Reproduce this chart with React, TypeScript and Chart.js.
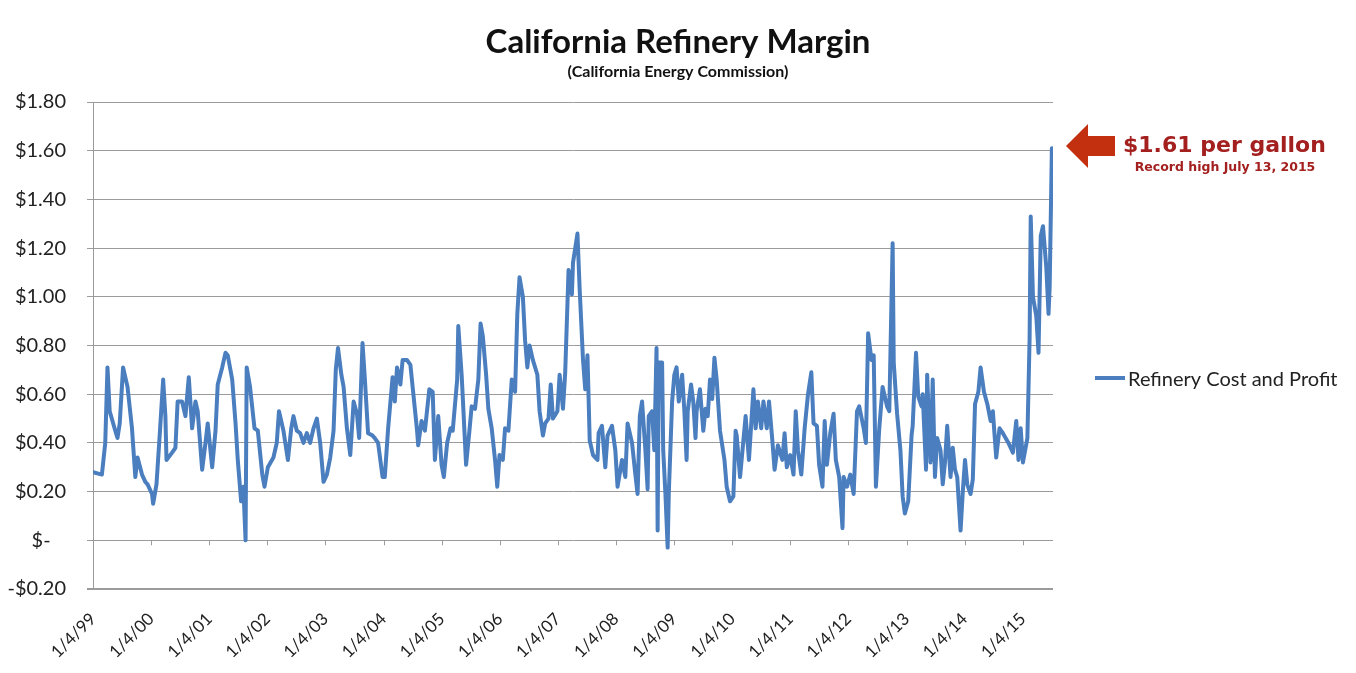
import React, { useEffect, useRef } from "react";
import { Chart, registerables } from "chart.js";

Chart.register(...registerables);

// Week index since 1/4/99 (weekly observations)
const weeks = [
  0, 8, 11, 13, 15, 20, 22, 24, 27, 31, 35, 38, 40, 44, 47, 49, 53, 54, 57, 60,
  63, 65, 66, 71, 74, 76, 80, 83, 86, 89, 92, 94, 98, 101, 103, 107, 110, 112, 116, 119,
  121, 125, 128, 130, 133, 135, 137, 138, 141, 145, 148, 152, 154, 157, 162, 165, 167, 171, 175, 178,
  180, 183, 186, 189, 192, 195, 198, 201, 204, 207, 210, 213, 216, 218, 220, 223, 225, 228, 231, 234,
  237, 239, 242, 244, 247, 251, 253, 256, 260, 262, 265, 269, 271, 273, 276, 278, 282, 285, 287, 291,
  292, 295, 298, 302, 305, 307, 310, 313, 315, 318, 321, 323, 327, 328, 331, 332, 335, 338, 340, 343,
  346, 348, 350, 353, 355, 358, 361, 363, 365, 368, 370, 373, 376, 379, 381, 383, 386, 388, 390, 392,
  395, 399, 401, 404, 406, 409, 411, 413, 417, 419, 422, 424, 427, 430, 431, 435, 437, 440, 442, 444,
  446, 449, 453, 454, 457, 460, 462, 466, 469, 471, 475, 478, 480, 484, 487, 489, 491, 493, 496, 498,
  499, 502, 504, 506, 507, 508, 511, 512, 514, 516, 517, 520, 522, 524, 526, 529, 531, 533, 534, 537,
  539, 541, 542, 545, 548, 550, 552, 554, 556, 558, 560, 563, 567, 569, 572, 575, 577, 578, 581, 584,
  586, 589, 593, 595, 597, 600, 602, 605, 607, 610, 612, 615, 619, 621, 623, 626, 629, 631, 633, 636,
  639, 642, 645, 647, 650, 652, 655, 657, 659, 662, 665, 667, 670, 673, 674, 677, 680, 683, 686, 688,
  692, 694, 696, 699, 701, 703, 706, 709, 713, 715, 718, 719, 722, 725, 727, 729, 732, 735, 736, 739,
  741, 744, 745, 748, 749, 752, 754, 756, 758, 761, 763, 765, 767, 770, 772, 774, 776, 779, 781, 783,
  785, 788, 790, 792, 795, 797, 800, 803, 806, 808, 811, 814, 817, 822, 826, 829, 831, 833, 835, 839,
  841, 842, 844, 847, 849, 851, 853, 856, 858, 859, 861,
];

// Refinery cost and profit, $ per gallon
const margins = [
  0.28, 0.27, 0.40, 0.71, 0.53, 0.45, 0.42, 0.48, 0.71, 0.63, 0.46, 0.26, 0.34, 0.27, 0.24, 0.23, 0.19, 0.15, 0.23, 0.44,
  0.66, 0.51, 0.33, 0.36, 0.38, 0.57, 0.57, 0.51, 0.67, 0.46, 0.57, 0.53, 0.29, 0.40, 0.48, 0.30, 0.45, 0.64, 0.71, 0.77,
  0.76, 0.66, 0.48, 0.33, 0.16, 0.22, 0.00, 0.71, 0.63, 0.46, 0.45, 0.27, 0.22, 0.30, 0.34, 0.40, 0.53, 0.45, 0.33, 0.46,
  0.51, 0.45, 0.44, 0.40, 0.44, 0.40, 0.46, 0.50, 0.40, 0.24, 0.27, 0.34, 0.45, 0.70, 0.79, 0.68, 0.63, 0.46, 0.35, 0.57,
  0.52, 0.42, 0.81, 0.67, 0.44, 0.43, 0.42, 0.40, 0.26, 0.26, 0.46, 0.67, 0.57, 0.71, 0.64, 0.74, 0.74, 0.72, 0.63, 0.45,
  0.39, 0.49, 0.45, 0.62, 0.61, 0.33, 0.51, 0.31, 0.26, 0.40, 0.46, 0.45, 0.66, 0.88, 0.68, 0.59, 0.31, 0.45, 0.55, 0.54,
  0.66, 0.89, 0.84, 0.68, 0.54, 0.46, 0.33, 0.22, 0.35, 0.33, 0.46, 0.45, 0.66, 0.61, 0.93, 1.08, 1.00, 0.82, 0.71, 0.80,
  0.74, 0.68, 0.53, 0.43, 0.48, 0.50, 0.64, 0.50, 0.53, 0.68, 0.54, 0.69, 1.11, 1.01, 1.14, 1.26, 1.03, 0.74, 0.62, 0.76,
  0.41, 0.35, 0.33, 0.44, 0.47, 0.30, 0.43, 0.47, 0.37, 0.22, 0.33, 0.26, 0.48, 0.40, 0.27, 0.19, 0.51, 0.57, 0.37, 0.21,
  0.51, 0.53, 0.37, 0.79, 0.04, 0.73, 0.73, 0.37, 0.19, -0.03, 0.19, 0.57, 0.68, 0.71, 0.57, 0.68, 0.53, 0.33, 0.53, 0.64,
  0.57, 0.42, 0.53, 0.62, 0.45, 0.54, 0.51, 0.66, 0.58, 0.75, 0.66, 0.45, 0.33, 0.22, 0.16, 0.18, 0.45, 0.43, 0.26, 0.41,
  0.51, 0.33, 0.62, 0.46, 0.57, 0.46, 0.57, 0.46, 0.57, 0.41, 0.29, 0.39, 0.33, 0.44, 0.30, 0.35, 0.27, 0.53, 0.37, 0.27,
  0.46, 0.60, 0.69, 0.48, 0.47, 0.31, 0.22, 0.49, 0.31, 0.44, 0.52, 0.33, 0.26, 0.05, 0.26, 0.22, 0.27, 0.19, 0.53, 0.55,
  0.46, 0.40, 0.85, 0.74, 0.76, 0.22, 0.46, 0.63, 0.55, 0.53, 1.22, 0.73, 0.52, 0.37, 0.18, 0.11, 0.16, 0.43, 0.47, 0.77,
  0.59, 0.55, 0.60, 0.29, 0.68, 0.32, 0.66, 0.26, 0.42, 0.37, 0.23, 0.32, 0.47, 0.26, 0.38, 0.29, 0.26, 0.04, 0.20, 0.33,
  0.23, 0.19, 0.25, 0.56, 0.61, 0.71, 0.61, 0.56, 0.49, 0.53, 0.34, 0.46, 0.44, 0.40, 0.36, 0.49, 0.33, 0.46, 0.32, 0.42,
  0.83, 1.33, 1.00, 0.92, 0.77, 1.25, 1.29, 1.12, 0.93, 1.04, 1.61,
];

const tickYears = [1999, 2000, 2001, 2002, 2003, 2004, 2005, 2006, 2007, 2008, 2009, 2010, 2011, 2012, 2013, 2014, 2015];
const tickLabels = [
  "1/4/99", "1/4/00", "1/4/01", "1/4/02", "1/4/03", "1/4/04", "1/4/05", "1/4/06", "1/4/07",
  "1/4/08", "1/4/09", "1/4/10", "1/4/11", "1/4/12", "1/4/13", "1/4/14", "1/4/15",
];

const TITLE = "California Refinery Margin";
const SUBTITLE = "(California Energy Commission)";
const SERIES_NAME = "Refinery Cost and Profit";
const NOTE_MAIN = "$1.61 per gallon";
const NOTE_SUB = "Record high July 13, 2015";

const LINE_COLOR = "#4a7ebf";
const GRID_COLOR = "#9b9b9b";
const FONT = "Lato, 'Noto Sans', sans-serif";
const NOTE_FONT = "'DejaVu Sans', Verdana, sans-serif";

const DAY_MS = 86400000;
const origin = Date.UTC(1999, 0, 4);
const tickDays = tickYears.map((y) => Math.round((Date.UTC(y, 0, 4) - origin) / DAY_MS));

export default function App() {
  const ref = useRef<HTMLCanvasElement | null>(null);

  useEffect(() => {
    if (!ref.current) return;
    const points = weeks.map((w, i) => ({ x: w * 7, y: margins[i] }));

    const decor = {
      id: "decor",
      afterDraw(chart: any) {
        const ctx = chart.ctx as CanvasRenderingContext2D;
        const xs = chart.scales.x;
        const ys = chart.scales.y;
        ctx.save();
        // bottom frame line at the lowest y tick
        const yb = Math.round(ys.getPixelForValue(-0.2));
        ctx.fillStyle = GRID_COLOR;
        ctx.fillRect(87, yb - 1, chart.chartArea.right - 87, 2);
        // tick marks hanging from the zero line
        const y0 = ys.getPixelForValue(0);
        ctx.strokeStyle = GRID_COLOR;
        ctx.lineWidth = 1;
        tickDays.forEach((d) => {
          const px = Math.round(xs.getPixelForValue(d)) + 0.5;
          ctx.beginPath();
          ctx.moveTo(px, y0);
          ctx.lineTo(px, y0 + 5);
          ctx.stroke();
        });
        // title
        ctx.fillStyle = "#111";
        ctx.textAlign = "center";
        ctx.textBaseline = "middle";
        ctx.font = `bold 33px ${FONT}`;
        ctx.fillText(TITLE, 678, 42);
        ctx.font = `bold 16px ${FONT}`;
        ctx.fillText(SUBTITLE, 678, 72);
        // legend
        ctx.strokeStyle = LINE_COLOR;
        ctx.lineWidth = 4;
        ctx.beginPath();
        ctx.moveTo(1095, 378);
        ctx.lineTo(1125, 378);
        ctx.stroke();
        ctx.fillStyle = "#222";
        ctx.textAlign = "left";
        ctx.font = `20px ${FONT}`;
        ctx.fillText(SERIES_NAME, 1128, 380);
        // annotation arrow
        ctx.fillStyle = "#c3300f";
        ctx.beginPath();
        ctx.moveTo(1066, 146);
        ctx.lineTo(1088, 124);
        ctx.lineTo(1088, 136);
        ctx.lineTo(1115, 136);
        ctx.lineTo(1115, 156);
        ctx.lineTo(1088, 156);
        ctx.lineTo(1088, 168);
        ctx.closePath();
        ctx.fill();
        ctx.fillStyle = "#a3201f";
        ctx.font = `bold 22px ${NOTE_FONT}`;
        ctx.textAlign = "left";
        ctx.fillText(NOTE_MAIN, 1123, 146);
        ctx.font = `bold 12.5px ${NOTE_FONT}`;
        ctx.textAlign = "center";
        ctx.fillText(NOTE_SUB, 1225, 168);
        ctx.restore();
      },
    };

    const chart = new Chart(ref.current, {
      type: "line",
      data: {
        datasets: [
          {
            label: SERIES_NAME,
            data: points,
            borderColor: LINE_COLOR,
            backgroundColor: LINE_COLOR,
            borderWidth: 4,
            pointRadius: 0,
            tension: 0,
            borderJoinStyle: "round",
            borderCapStyle: "round",
          },
        ],
      },
      options: {
        animation: false,
        responsive: true,
        maintainAspectRatio: false,
        layout: { padding: { left: 0, top: 102, right: 303, bottom: 0 } },
        plugins: {
          legend: { display: false },
          title: { display: false },
          tooltip: { enabled: false },
        },
        scales: {
          x: {
            type: "linear",
            min: 0,
            max: 862 * 7,
            grid: { display: false, drawTicks: false },
            border: { display: false },
            afterBuildTicks: (scale: any) => {
              scale.ticks = tickDays.map((v) => ({ value: v }));
            },
            afterFit: (scale: any) => {
              scale.height = 84;
            },
            ticks: {
              autoSkip: false,
              minRotation: 45,
              maxRotation: 45,
              padding: 20,
              color: "#222",
              font: { family: FONT, size: 17 },
              callback: (_v: any, i: number) => tickLabels[i],
            },
          },
          y: {
            min: -0.2,
            max: 1.8,
            afterFit: (scale: any) => {
              scale.width = 93;
            },
            grid: { color: GRID_COLOR, lineWidth: 1, tickLength: 6, drawTicks: true },
            border: { display: true, color: GRID_COLOR },
            ticks: {
              stepSize: 0.2,
              padding: 21,
              color: "#222",
              font: { family: FONT, size: 20 },
              callback: (v: any) => {
                const n = Number(v);
                if (Math.abs(n) < 1e-9) return "$-\u00a0\u00a0\u00a0";
                const s = "$" + Math.abs(n).toFixed(2);
                return n < 0 ? "-" + s : s;
              },
            },
          },
        },
      },
      plugins: [decor],
    });
    return () => chart.destroy();
  }, []);

  return (
    <div style={{ position: "absolute", left: 0, top: 0, width: 1356, height: 673, background: "#fff" }}>
      <canvas ref={ref} style={{ width: "100%", height: "100%" }} />
    </div>
  );
}
